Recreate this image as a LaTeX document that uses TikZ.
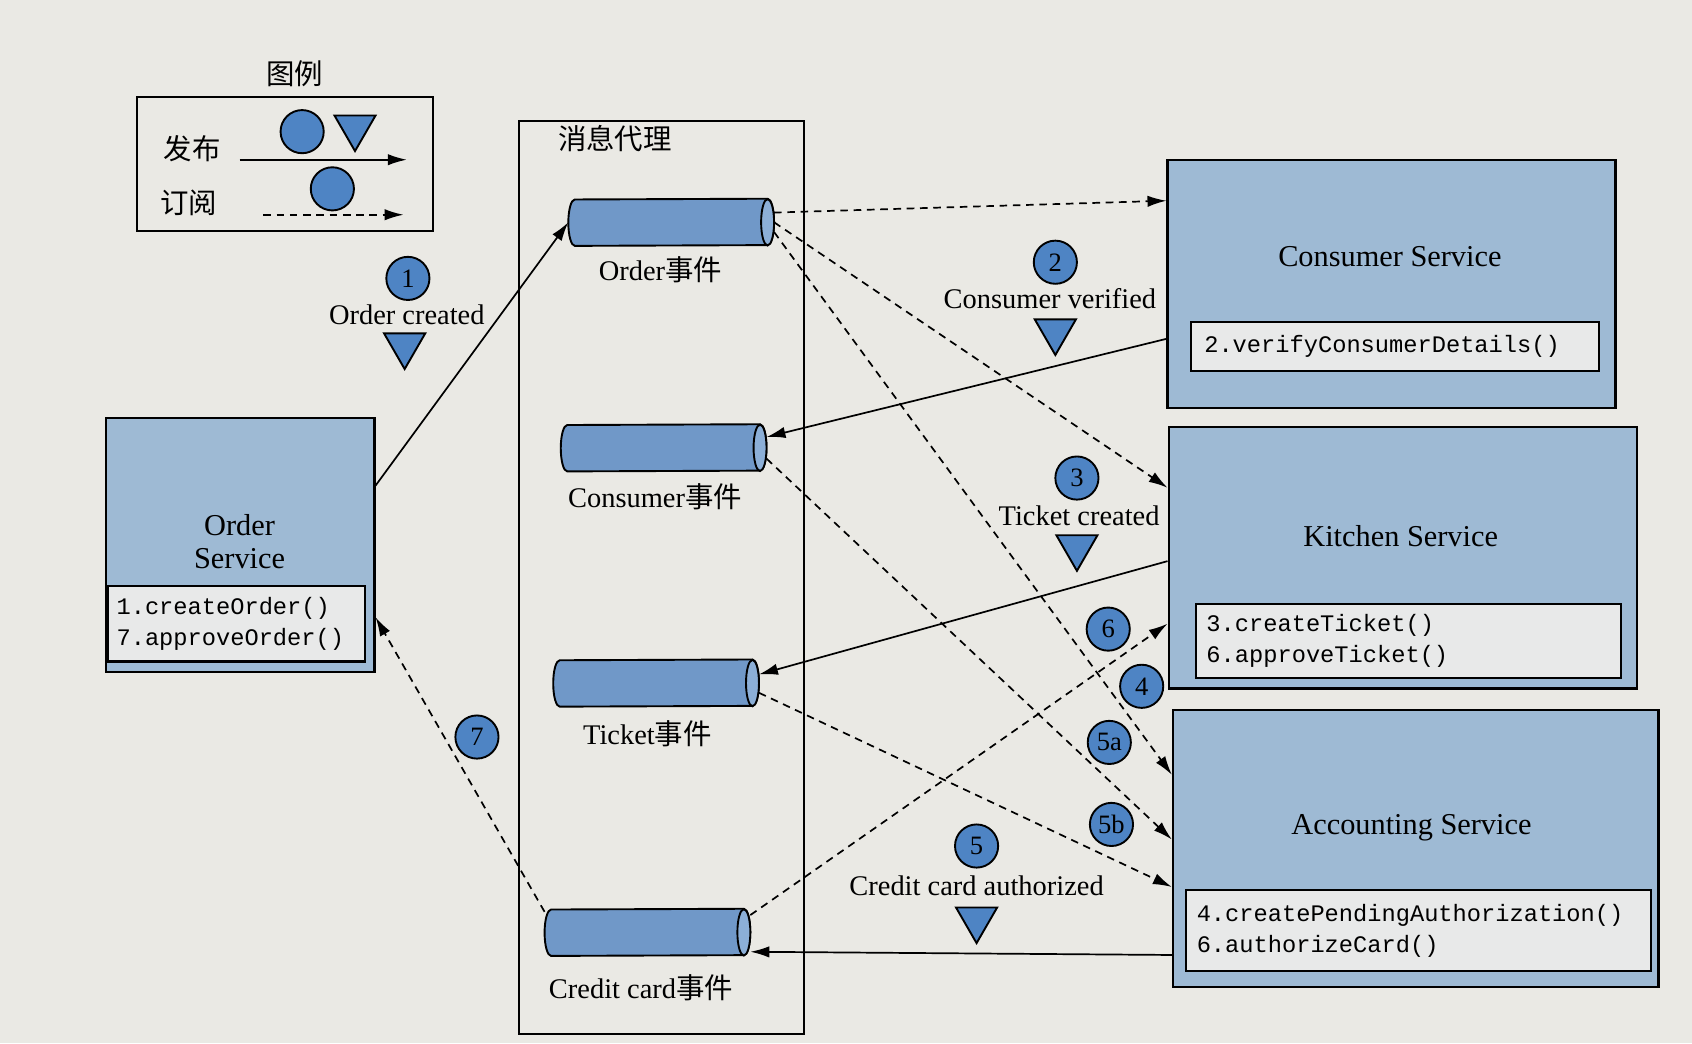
\documentclass[tikz,border=0pt]{standalone}
\usepackage{fontspec}
\setmainfont{Liberation Serif}
\setmonofont{Liberation Mono}
\newfontfamily\zhfont{Noto Sans CJK SC}
\usepackage{tikz}
\usetikzlibrary{arrows,arrows.meta,shapes.geometric,calc}
\definecolor{pagebg}{RGB}{234,233,228}
\definecolor{svcfill}{RGB}{158,186,212}
\definecolor{cylfill}{RGB}{112,152,200}
\definecolor{cylend}{RGB}{140,175,215}
\definecolor{dotfill}{RGB}{78,132,196}
\definecolor{opsfill}{RGB}{232,233,233}
\newcommand{\codefont}{\ttfamily\fontsize{12.5}{16}\selectfont}
\newcommand{\lblfont}{\fontsize{15}{17}\selectfont}
\tikzset{
  svc/.style={draw, line width=1.2pt, fill=svcfill, inner sep=0pt},
  ops/.style={draw, line width=1.1pt, fill=opsfill, font=\codefont, align=left, inner ysep=0pt},
  topic/.style={minimum width=3.8cm, minimum height=0.86cm, inner sep=0pt},
  tube/.style={draw, line width=1pt, fill=cylfill},
  tubeend/.style={draw, line width=1pt, fill=cylend},
  num/.style={circle, draw, line width=1pt, fill=dotfill, minimum size=0.8cm, inner sep=0pt, font=\fontsize{14}{14}\selectfont},
  evt/.style={regular polygon, regular polygon sides=3, shape border rotate=180, draw, line width=1pt, fill=dotfill, minimum size=0.88cm, inner sep=0pt},
  lbl/.style={font=\lblfont, inner sep=1pt},
  pub/.style={-{Latex[length=10pt,width=6pt]}, line width=0.9pt},
  subl/.style={pub, dash pattern=on 4pt off 3pt},
}
\begin{document}
\begin{tikzpicture}[x=0.02cm,y=-0.02cm]
\useasboundingbox (0,0) rectangle (1568,967);
\fill[pagebg] (0,0) rectangle (1568,967);
% legend
\node[font=\zhfont\lblfont] at (273,68) {图例};
\draw[line width=1.1pt] (127,90) rectangle (401,214);
\node[font=\zhfont\lblfont] at (178,138) {发布};
\node[font=\zhfont\lblfont] at (175,188) {订阅};
\node[num] (lc1) at (280,122) {};
\node[evt] (lt1) at (329,118) {};
\node[num] (lc2) at (308,175) {};
\coordinate (l1) at (222,148);
\coordinate (l2) at (377,148);
\coordinate (l3) at (244,199);
\coordinate (l4) at (374,199);
\draw[pub] (l1) -- (l2);
\draw[subl] (l3) -- (l4);
% message broker
\draw[line width=1.1pt] (481,112) rectangle (745,958);
\node[font=\zhfont\lblfont, anchor=west] at (511,128) {消息代理};
\node[topic] (ordEvt) at (622,206) {};
\node[topic] (conEvt) at (615,415) {};
\node[topic] (tktEvt) at (608,633) {};
\node[topic] (crdEvt) at (600,864) {};
\foreach \t in {ordEvt,conEvt,tktEvt,crdEvt}{
  \draw[tube] ([xshift=-0.12cm]\t.north east) arc[start angle=90, end angle=-90, x radius=0.12cm, y radius=0.43cm]
    -- ([xshift=0.12cm]\t.south west) arc[start angle=270, end angle=90, x radius=0.12cm, y radius=0.43cm] -- cycle;
  \draw[tubeend] ([xshift=-0.12cm]\t.east) ellipse[x radius=0.12cm, y radius=0.43cm];
}
\node[lbl] at (612,250) {Order{\zhfont 事件}};
\node[lbl] at (607,460) {Consumer{\zhfont 事件}};
\node[lbl] at (600,680) {Ticket{\zhfont 事件}};
\node[lbl] at (594,915) {Credit card{\zhfont 事件}};
% services
\node[svc, minimum width=4.98cm, minimum height=4.72cm] (orderSvc) at (222.5,505) {};
\node[lbl, align=center, font=\fontsize{16}{17}\selectfont] at (222,502) {Order\\Service};
\node[ops, text width=4.44cm, inner xsep=0.16cm, minimum height=1.4cm] (orderOps) at (219,578) {1.createOrder()\\7.approveOrder()};
\node[svc, minimum width=8.3cm, minimum height=4.6cm] (consumerSvc) at (1289.5,263) {};
\node[lbl, font=\fontsize{16}{17}\selectfont] at (1288,238) {Consumer Service};
\node[ops, text width=7.08cm, inner xsep=0.24cm, minimum height=0.92cm] (consumerOps) at (1293,321) {2.verifyConsumerDetails()};
\node[svc, minimum width=8.68cm, minimum height=4.84cm] (kitchenSvc) at (1300,517) {};
\node[lbl, font=\fontsize{16}{17}\selectfont] at (1298,497) {Kitchen Service};
\node[ops, text width=7.48cm, inner xsep=0.2cm, minimum height=1.36cm] (kitchenOps) at (1305,594) {3.createTicket()\\6.approveTicket()};
\node[svc, minimum width=9cm, minimum height=5.14cm] (accountingSvc) at (1312,786.5) {};
\node[lbl, font=\fontsize{16}{17}\selectfont] at (1308,767) {Accounting Service};
\node[ops, text width=8.22cm, inner xsep=0.2cm, minimum height=1.5cm] (accountingOps) at (1314.5,862.5) {4.createPendingAuthorization()\\6.authorizeCard()};
% messages
\draw[pub] ([yshift=1.1cm]orderSvc.east) -- (ordEvt.west);
\draw[subl] ([yshift=0.18cm]ordEvt.east) -- ([yshift=1.54cm]consumerSvc.west);
\draw[subl] (ordEvt.east) -- ([yshift=1.3cm]kitchenSvc.west);
\draw[subl] ([yshift=-0.18cm]ordEvt.east) -- ([yshift=1.37cm]accountingSvc.west);
\draw[pub] ([yshift=-1.02cm]consumerSvc.west) -- ([yshift=0.2cm]conEvt.east);
\draw[subl] ([yshift=-0.2cm]conEvt.east) -- ([yshift=0.17cm]accountingSvc.west);
\draw[pub] ([yshift=-0.06cm]kitchenSvc.west) -- ([yshift=0.16cm]tktEvt.east);
\draw[subl] ([yshift=-0.18cm]tktEvt.east) -- ([yshift=-0.71cm]accountingSvc.west);
\draw[pub] ([yshift=-1.97cm]accountingSvc.west) -- ([yshift=-0.36cm]crdEvt.east);
\draw[subl] ([yshift=0.32cm]crdEvt.east) -- ([yshift=-1.22cm]kitchenSvc.west);
\draw[subl] ([yshift=0.38cm]crdEvt.west) -- ([yshift=-1.34cm]orderSvc.east);
% steps
\node[num] (s1) at (378,258) {1};
\node[lbl] at (377,292) {Order created};
\node[evt] (t1) at (375,320) {};
\node[num] (s2) at (978,243) {2};
\node[lbl] at (973,277) {Consumer verified};
\node[evt] (t2) at (978,307) {};
\node[num] (s3) at (998,443) {3};
\node[lbl] at (1000,478) {Ticket created};
\node[evt] (t3) at (998,507) {};
\node[num] (s5) at (905,784) {5};
\node[lbl] at (905,821) {Credit card authorized};
\node[evt] (t5) at (905,852) {};
\node[num] (s6) at (1027,583) {6};
\node[num] (s4) at (1058,636) {4};
\node[num] (s5a) at (1028,688) {5a};
\node[num] (s5b) at (1030,764) {5b};
\node[num] (s7) at (442,683) {7};
\end{tikzpicture}
\end{document}
